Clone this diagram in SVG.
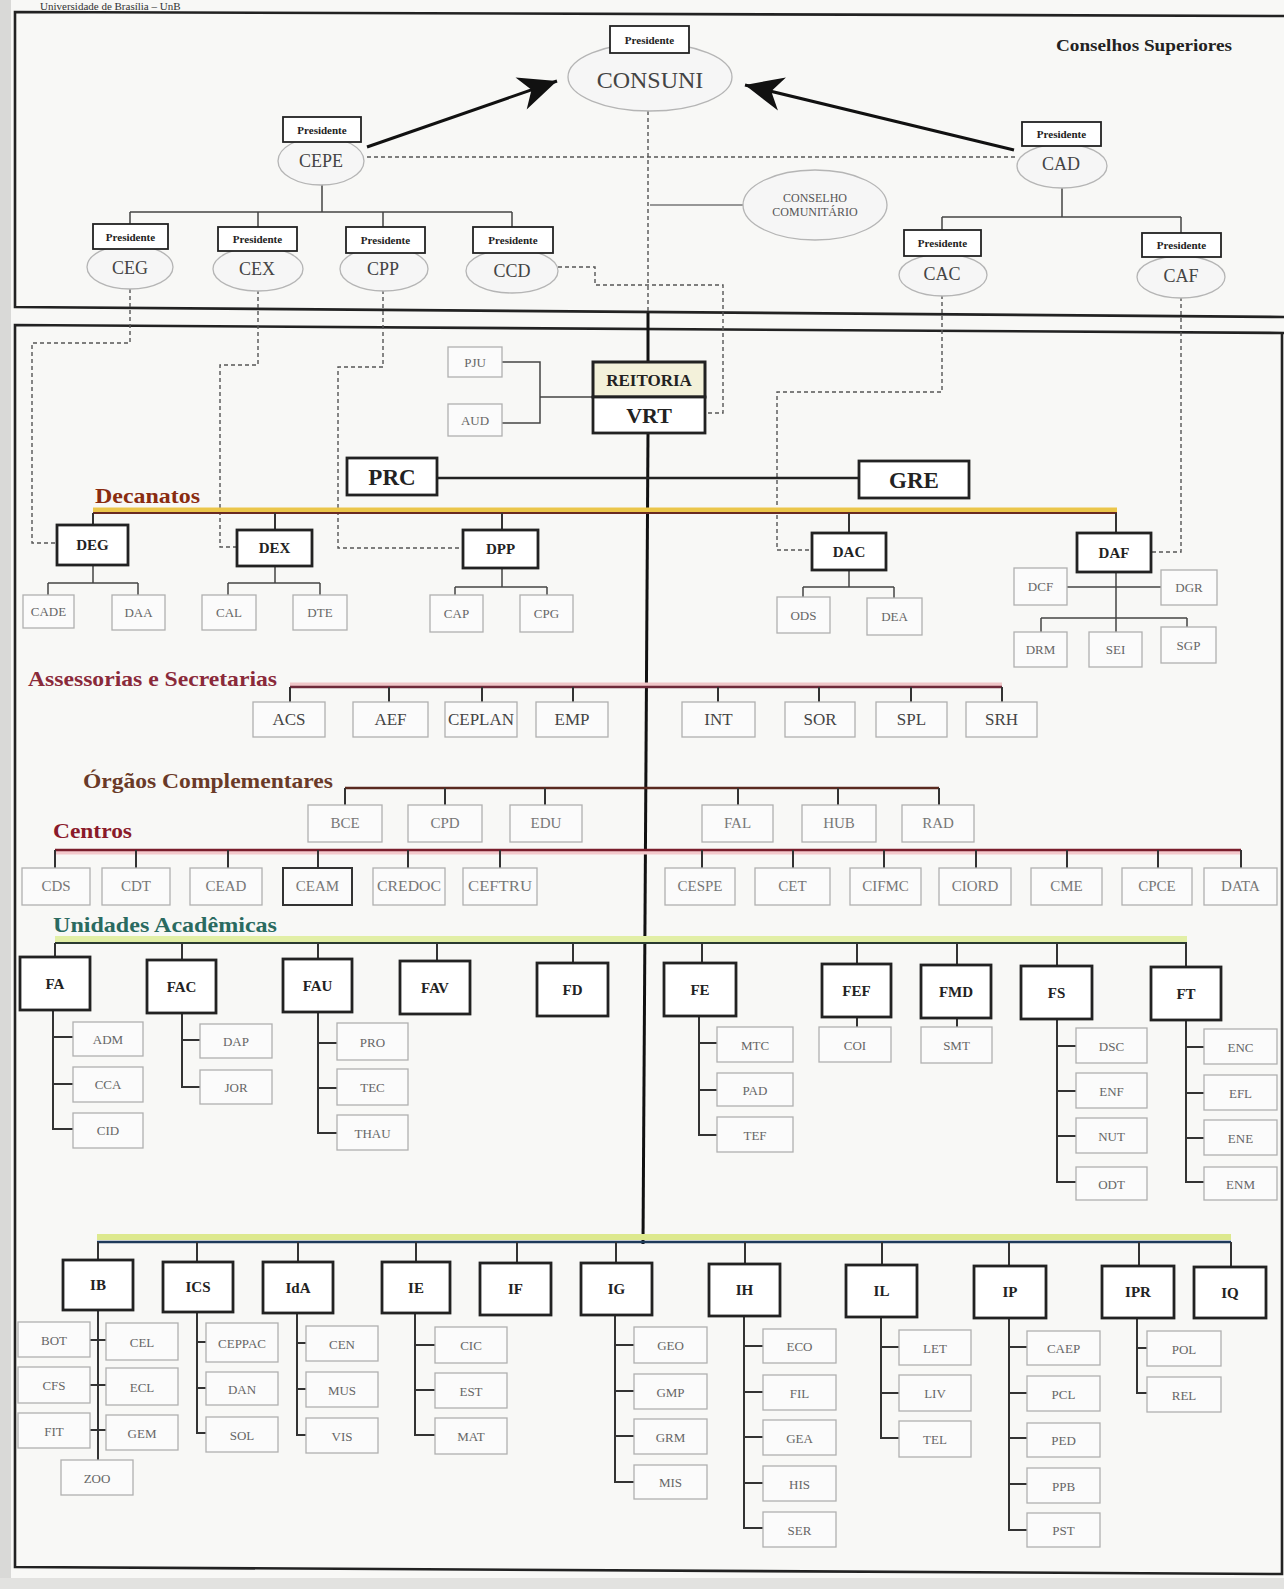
<svg xmlns="http://www.w3.org/2000/svg" width="1284" height="1589" viewBox="0 0 1284 1589">
<style>
text{font-family:"Liberation Serif","Times New Roman",serif;text-anchor:middle}
.frame{fill:none;stroke:#222;stroke-width:2.6}
.cloud{fill:#f6f6f6;stroke:#b5b5b5;stroke-width:1.3}
.pres{fill:#fff;stroke:#222;stroke-width:1.8}
.presT{font-size:11px;font-weight:bold;fill:#222}
.cT{font-size:18px;fill:#444}
.n1{fill:#fff;stroke:#222;stroke-width:2.8}
.n1T{font-size:15px;font-weight:bold;fill:#222}
.big{font-size:23px;font-weight:bold;fill:#222}
.dep{fill:#fbfbfb;stroke:#b0b0b0;stroke-width:1.3}
.dT{font-size:13px;fill:#666}
.aT{font-size:17px;fill:#444}
.oT{font-size:15px;fill:#777}
.ln{fill:none;stroke:#333;stroke-width:2}
.lnt{fill:none;stroke:#444;stroke-width:1.5}
.dash{fill:none;stroke:#555;stroke-width:1.4;stroke-dasharray:4 3}
.hd{font-size:22px;font-weight:bold;text-anchor:start}
</style>
<defs>
<marker id="arr" viewBox="-40 -20 42 40" refX="0" refY="0" markerWidth="42" markerHeight="40" markerUnits="userSpaceOnUse" orient="auto">
<path d="M0,0 L-38,-17 L-27,0 L-38,17 Z" fill="#111"/>
</marker>
</defs>
<rect x="0" y="0" width="1284" height="1589" fill="#f8f8f6"/>
<rect x="0" y="0" width="11" height="1589" fill="#d9d9d7"/>
<rect x="0" y="1578" width="1284" height="11" fill="#e2e2e0"/>
<text x="40" y="10" style="font-size:11px;text-anchor:start;fill:#333">Universidade de Brasília – UnB</text>

<g id="frames">
<path class="frame" d="M1284,16 L15,12 L15,307 L1284,317"/>
<path class="frame" d="M1284,333 L15,325 L15,1567 L1282,1574 L1282,333"/>
</g>
<text x="1144" y="51" style="font-size:17px;font-weight:bold;fill:#222" textLength="176" lengthAdjust="spacingAndGlyphs">Conselhos Superiores</text>

<g id="connectors">
<line x1="367" y1="147" x2="557" y2="81" stroke="#111" stroke-width="3" marker-end="url(#arr)"/>
<line x1="1014" y1="150" x2="745" y2="85" stroke="#111" stroke-width="3" marker-end="url(#arr)"/>
<path class="dash" d="M367,157 H1016"/>
<path class="dash" d="M648,111 V313"/>
<path d="M650,205 H743" stroke="#777" stroke-width="1.5" fill="none"/>
<path class="lnt" d="M322,183 V212 M130,212 H512 M130,212 V224 M258,212 V227 M383,212 V227 M512,212 V227"/>
<path class="lnt" d="M1062,187 V217 M942,217 H1181 M942,217 V230 M1181,217 V233"/>
<path class="dash" d="M130,289 V343 H32 V543 H57"/>
<path class="dash" d="M258,290 V365 H220 V547 H237"/>
<path class="dash" d="M383,290 V367 H338 V548 H463"/>
<path class="dash" d="M558,267 H595 V285 H723 V413 H705"/>
<path class="dash" d="M942,295 V392 H777 V550 H812"/>
<path class="dash" d="M1181,297 V552 H1151"/>
<path d="M648,313 V362" stroke="#111" stroke-width="3" fill="none"/>
<path d="M648,433 L643,1244" stroke="#111" stroke-width="3" fill="none"/>
<path class="lnt" d="M502,362 H540 V423 H502 M540,397 H593"/>
<path d="M437,478 H859" stroke="#222" stroke-width="2.6" fill="none"/>
<path d="M93,510 H1117" stroke="#ebc64a" stroke-width="5" fill="none"/>
<path d="M93,513 H1117" stroke="#6a2a20" stroke-width="1.8" fill="none"/>
<path class="ln" d="M93,513 V525 M275,513 V530 M502,513 V530 M849,513 V533 M1116,513 V533"/>
<path class="lnt" d="M93,565 V583 M48,583 H138 M48,583 V595 M138,583 V595"/>
<path class="lnt" d="M275,566 V583 M228,583 H320 M228,583 V595 M320,583 V595"/>
<path class="lnt" d="M502,568 V587 M455,587 H547 M455,587 V595 M547,587 V595"/>
<path class="lnt" d="M849,570 V587 M803,587 H894 M803,587 V597 M894,587 V598"/>
<path class="lnt" d="M1067,587 H1161 M1116,572 V618 M1041,618 H1187 M1041,618 V632 M1116,618 V632 M1187,618 V627"/>
<path d="M290,685 H1002" stroke="#f0c6c8" stroke-width="5" fill="none"/>
<path d="M290,687 H1002" stroke="#6e2a3a" stroke-width="2.4" fill="none"/>
<path class="ln" d="M290,687 V702 M389,687 V702 M482,687 V702 M573,687 V702 M718,687 V702 M819,687 V702 M911,687 V702 M1002,687 V702" stroke="#5a2a30"/>
<path d="M345,788 H939" stroke="#5a2a20" stroke-width="2.4" fill="none"/>
<path class="ln" d="M345,788 V805 M445,788 V805 M545,788 V805 M738,788 V805 M838,788 V805 M939,788 V805"/>
<path d="M55,852 H1241" stroke="#f3c9cc" stroke-width="5" fill="none"/>
<path d="M55,850 H1241" stroke="#7a1e2c" stroke-width="2.4" fill="none"/>
<path class="ln" d="M55,850 V868 M136,850 V868 M228,850 V868 M318,850 V868 M408,850 V868 M500,850 V868 M702,850 V868 M793,850 V868 M884,850 V868 M976,850 V868 M1067,850 V868 M1158,850 V868 M1241,850 V868" stroke="#5a2a30"/>
<path d="M55,939 H1187" stroke="#e2efa6" stroke-width="6" fill="none"/>
<path d="M55,943 H1187" stroke="#2a3a30" stroke-width="2.2" fill="none"/>
<path class="ln" d="M55,943 V957 M182,943 V960 M318,943 V959 M437,943 V961 M573,943 V963 M702,943 V963 M857,943 V964 M957,943 V965 M1057,943 V966 M1186,943 V967" stroke="#2a4a40"/>
<path class="ln" d="M53,1010 V1129 H73 M53,1037 H73 M53,1084 H73"/>
<path class="ln" d="M182,1013 V1087 H200 M182,1040 H200"/>
<path class="ln" d="M318,1012 V1133 H337 M318,1043 H337 M318,1088 H337"/>
<path class="ln" d="M699,1016 V1135 H717 M699,1043 H717 M699,1090 H717"/>
<path class="ln" d="M857,1017 V1027 M957,1018 V1027"/>
<path class="ln" d="M1057,1019 V1182 H1076 M1057,1046 H1076 M1057,1091 H1076 M1057,1136 H1076"/>
<path class="ln" d="M1186,1020 V1182 H1204 M1186,1047 H1204 M1186,1093 H1204 M1186,1138 H1204"/>
<path d="M97,1237 H1231" stroke="#dde98e" stroke-width="6" fill="none"/>
<path d="M97,1242 H1231" stroke="#1e3a5a" stroke-width="2.4" fill="none"/>
<path class="ln" d="M98,1242 V1260 M197,1242 V1262 M298,1242 V1262 M416,1242 V1262 M517,1242 V1263 M616,1242 V1263 M745,1242 V1264 M882,1242 V1265 M1009,1242 V1266 M1139,1242 V1266 M1231,1242 V1267" stroke="#2a3a4a"/>
<path class="ln" d="M98,1310 V1460 M90,1340 H106 M90,1385 H106 M90,1430 H106"/>
<path class="ln" d="M197,1312 V1433 H206 M197,1342 H206 M197,1388 H206"/>
<path class="ln" d="M297,1313 V1435 H306 M297,1343 H306 M297,1389 H306"/>
<path class="ln" d="M415,1313 V1435 H435 M415,1345 H435 M415,1390 H435"/>
<path class="ln" d="M615,1315 V1482 H634 M615,1345 H634 M615,1391 H634 M615,1436 H634"/>
<path class="ln" d="M744,1316 V1528 H763 M744,1346 H763 M744,1392 H763 M744,1437 H763 M744,1483 H763"/>
<path class="ln" d="M881,1317 V1438 H899 M881,1347 H899 M881,1393 H899"/>
<path class="ln" d="M1009,1318 V1530 H1027 M1009,1347 H1027 M1009,1393 H1027 M1009,1438 H1027 M1009,1484 H1027"/>
<path class="ln" d="M1137,1318 V1393 H1147 M1137,1348 H1147"/>
</g>

<g id="n-CONSUNI"><ellipse class="cloud" cx="650" cy="77" rx="82" ry="34"/><rect class="pres" x="610" y="26" width="79" height="27"/><text class="presT" x="649.5" y="43.5">Presidente</text><text x="650" y="88" style="font-size:24px;fill:#444">CONSUNI</text></g>
<g id="n-CEPE"><ellipse class="cloud" cx="321" cy="161" rx="43" ry="24"/><rect class="pres" x="283" y="117" width="78" height="25"/><text class="presT" x="322" y="133.5">Presidente</text><text class="cT" x="321" y="167">CEPE</text></g>
<g id="n-CAD"><ellipse class="cloud" cx="1062" cy="166" rx="45" ry="22"/><rect class="pres" x="1022" y="122" width="79" height="24"/><text class="presT" x="1061.5" y="138">Presidente</text><text class="cT" x="1061" y="170">CAD</text></g>
<g id="n-CEG"><ellipse class="cloud" cx="130" cy="267" rx="43" ry="22"/><rect class="pres" x="93" y="224" width="75" height="25"/><text class="presT" x="130.5" y="240.5">Presidente</text><text class="cT" x="130" y="274">CEG</text></g>
<g id="n-CEX"><ellipse class="cloud" cx="258" cy="269" rx="45" ry="22"/><rect class="pres" x="218" y="227" width="79" height="24"/><text class="presT" x="257.5" y="243">Presidente</text><text class="cT" x="257" y="275">CEX</text></g>
<g id="n-CPP"><ellipse class="cloud" cx="384" cy="269" rx="44" ry="22"/><rect class="pres" x="346" y="227" width="79" height="26"/><text class="presT" x="385.5" y="244">Presidente</text><text class="cT" x="383" y="275">CPP</text></g>
<g id="n-CCD"><ellipse class="cloud" cx="512" cy="271" rx="46" ry="22"/><rect class="pres" x="473" y="227" width="80" height="26"/><text class="presT" x="513" y="244">Presidente</text><text class="cT" x="512" y="277">CCD</text></g>
<g id="n-CAC"><ellipse class="cloud" cx="943" cy="275" rx="44" ry="21"/><rect class="pres" x="904" y="230" width="77" height="26"/><text class="presT" x="942.5" y="247">Presidente</text><text class="cT" x="942" y="280">CAC</text></g>
<g id="n-CAF"><ellipse class="cloud" cx="1181" cy="277" rx="44" ry="21"/><rect class="pres" x="1142" y="233" width="79" height="24"/><text class="presT" x="1181.5" y="249">Presidente</text><text class="cT" x="1181" y="282">CAF</text></g>
<g id="n-CONSELHO"><ellipse class="cloud" cx="815" cy="205" rx="72" ry="35"/><text x="815" y="202" style="font-size:12px;fill:#555">CONSELHO</text><text x="815" y="216" style="font-size:12px;fill:#555">COMUNITÁRIO</text></g>

<g id="n-PJU"><rect class="dep" x="448" y="347" width="54" height="30"/><text class="dT" x="475" y="367">PJU</text></g>
<g id="n-AUD"><rect class="dep" x="448" y="404" width="54" height="32"/><text class="dT" x="475" y="425">AUD</text></g>
<g id="n-REITORIA"><rect x="593" y="362" width="112" height="35" fill="#f3f1da" stroke="#222" stroke-width="3"/><text x="649" y="386" style="font-size:17px;font-weight:bold;fill:#222">REITORIA</text></g>
<g id="n-VRT"><rect class="n1" x="593" y="397" width="112" height="36" stroke-width="3"/><text x="649" y="423" style="font-size:22px;font-weight:bold;fill:#222">VRT</text></g>
<g id="n-PRC"><rect class="n1" x="347" y="458" width="90" height="37"/><text class="big" x="392" y="485">PRC</text></g>
<g id="n-GRE"><rect class="n1" x="859" y="461" width="110" height="37"/><text class="big" x="914" y="488">GRE</text></g>

<text class="hd" x="95" y="503" fill="#8a2c10" textLength="105" lengthAdjust="spacingAndGlyphs">Decanatos</text>
<text class="hd" x="28" y="686" fill="#8a2a3a" textLength="249" lengthAdjust="spacingAndGlyphs">Assessorias e Secretarias</text>
<text class="hd" x="83" y="788" fill="#6a3a28" textLength="250" lengthAdjust="spacingAndGlyphs">Órgãos Complementares</text>
<text class="hd" x="53" y="838" fill="#8a1a2a" textLength="79" lengthAdjust="spacingAndGlyphs">Centros</text>
<text class="hd" x="53" y="932" fill="#2a6a60" textLength="224" lengthAdjust="spacingAndGlyphs">Unidades Acadêmicas</text>

<g id="n-DEG"><rect class="n1" x="57" y="525" width="71" height="40"/><text class="n1T" x="92.5" y="550">DEG</text></g>
<g id="n-DEX"><rect class="n1" x="237" y="530" width="75" height="36"/><text class="n1T" x="274.5" y="553">DEX</text></g>
<g id="n-DPP"><rect class="n1" x="463" y="530" width="75" height="38"/><text class="n1T" x="500.5" y="554">DPP</text></g>
<g id="n-DAC"><rect class="n1" x="812" y="533" width="74" height="37"/><text class="n1T" x="849" y="557">DAC</text></g>
<g id="n-DAF"><rect class="n1" x="1077" y="533" width="74" height="39"/><text class="n1T" x="1114" y="558">DAF</text></g>
<g id="n-CADE"><rect class="dep" x="23" y="595" width="51" height="33"/><text class="dT" x="48.5" y="616">CADE</text></g>
<g id="n-DAA"><rect class="dep" x="112" y="595" width="53" height="35"/><text class="dT" x="138.5" y="617">DAA</text></g>
<g id="n-CAL"><rect class="dep" x="202" y="595" width="54" height="35"/><text class="dT" x="229" y="617">CAL</text></g>
<g id="n-DTE"><rect class="dep" x="293" y="595" width="54" height="35"/><text class="dT" x="320" y="617">DTE</text></g>
<g id="n-CAP"><rect class="dep" x="430" y="595" width="53" height="37"/><text class="dT" x="456.5" y="618">CAP</text></g>
<g id="n-CPG"><rect class="dep" x="520" y="595" width="53" height="37"/><text class="dT" x="546.5" y="618">CPG</text></g>
<g id="n-ODS"><rect class="dep" x="777" y="597" width="53" height="36"/><text class="dT" x="803.5" y="620">ODS</text></g>
<g id="n-DEA"><rect class="dep" x="867" y="598" width="55" height="37"/><text class="dT" x="894.5" y="621">DEA</text></g>
<g id="n-DCF"><rect class="dep" x="1014" y="568" width="53" height="37"/><text class="dT" x="1040.5" y="591">DCF</text></g>
<g id="n-DGR"><rect class="dep" x="1161" y="570" width="56" height="35"/><text class="dT" x="1189" y="592">DGR</text></g>
<g id="n-DRM"><rect class="dep" x="1014" y="632" width="53" height="35"/><text class="dT" x="1040.5" y="654">DRM</text></g>
<g id="n-SEI"><rect class="dep" x="1089" y="632" width="53" height="35"/><text class="dT" x="1115.5" y="654">SEI</text></g>
<g id="n-SGP"><rect class="dep" x="1161" y="627" width="55" height="36"/><text class="dT" x="1188.5" y="650">SGP</text></g>

<g id="n-ACS"><rect class="dep" x="253" y="702" width="72" height="35"/><text class="aT" x="289" y="725">ACS</text></g>
<g id="n-AEF"><rect class="dep" x="353" y="702" width="75" height="35"/><text class="aT" x="390.5" y="725">AEF</text></g>
<g id="n-CEPLAN"><rect class="dep" x="445" y="702" width="72" height="35"/><text class="aT" x="481" y="725" textLength="66" lengthAdjust="spacingAndGlyphs">CEPLAN</text></g>
<g id="n-EMP"><rect class="dep" x="536" y="702" width="72" height="35"/><text class="aT" x="572" y="725">EMP</text></g>
<g id="n-INT"><rect class="dep" x="682" y="702" width="73" height="35"/><text class="aT" x="718.5" y="725">INT</text></g>
<g id="n-SOR"><rect class="dep" x="785" y="702" width="70" height="35"/><text class="aT" x="820" y="725">SOR</text></g>
<g id="n-SPL"><rect class="dep" x="876" y="702" width="71" height="35"/><text class="aT" x="911.5" y="725">SPL</text></g>
<g id="n-SRH"><rect class="dep" x="966" y="702" width="71" height="35"/><text class="aT" x="1001.5" y="725">SRH</text></g>

<g id="n-BCE"><rect class="dep" x="308" y="805" width="74" height="37"/><text class="oT" x="345" y="828">BCE</text></g>
<g id="n-CPD"><rect class="dep" x="408" y="805" width="74" height="37"/><text class="oT" x="445" y="828">CPD</text></g>
<g id="n-EDU"><rect class="dep" x="510" y="805" width="72" height="37"/><text class="oT" x="546" y="828">EDU</text></g>
<g id="n-FAL"><rect class="dep" x="702" y="805" width="71" height="37"/><text class="oT" x="737.5" y="828">FAL</text></g>
<g id="n-HUB"><rect class="dep" x="802" y="805" width="74" height="37"/><text class="oT" x="839" y="828">HUB</text></g>
<g id="n-RAD"><rect class="dep" x="902" y="805" width="72" height="37"/><text class="oT" x="938" y="828">RAD</text></g>

<g id="n-CDS"><rect class="dep" x="22" y="868" width="68" height="37"/><text class="oT" x="56" y="891">CDS</text></g>
<g id="n-CDT"><rect class="dep" x="102" y="868" width="68" height="37"/><text class="oT" x="136" y="891">CDT</text></g>
<g id="n-CEAD"><rect class="dep" x="190" y="868" width="72" height="37"/><text class="oT" x="226" y="891">CEAD</text></g>
<g id="n-CEAM"><rect x="283" y="868" width="69" height="37" fill="#fbfbfb" stroke="#333" stroke-width="2"/><text class="oT" x="317.5" y="891">CEAM</text></g>
<g id="n-CREDOC"><rect class="dep" x="373" y="868" width="72" height="37"/><text class="oT" x="409" y="891" textLength="64" lengthAdjust="spacingAndGlyphs">CREDOC</text></g>
<g id="n-CEFTRU"><rect class="dep" x="463" y="868" width="74" height="37"/><text class="oT" x="500" y="891" textLength="64" lengthAdjust="spacingAndGlyphs">CEFTRU</text></g>
<g id="n-CESPE"><rect class="dep" x="665" y="868" width="70" height="37"/><text class="oT" x="700" y="891">CESPE</text></g>
<g id="n-CET"><rect class="dep" x="755" y="868" width="75" height="37"/><text class="oT" x="792.5" y="891">CET</text></g>
<g id="n-CIFMC"><rect class="dep" x="850" y="868" width="71" height="37"/><text class="oT" x="885.5" y="891">CIFMC</text></g>
<g id="n-CIORD"><rect class="dep" x="939" y="868" width="72" height="37"/><text class="oT" x="975" y="891">CIORD</text></g>
<g id="n-CME"><rect class="dep" x="1031" y="868" width="71" height="37"/><text class="oT" x="1066.5" y="891">CME</text></g>
<g id="n-CPCE"><rect class="dep" x="1122" y="868" width="70" height="37"/><text class="oT" x="1157" y="891">CPCE</text></g>
<g id="n-DATA"><rect class="dep" x="1204" y="868" width="73" height="37"/><text class="oT" x="1240.5" y="891">DATA</text></g>

<g id="n-FA"><rect class="n1" x="20" y="957" width="70" height="53"/><text class="n1T" x="55" y="988.5">FA</text></g>
<g id="n-FAC"><rect class="n1" x="147" y="960" width="69" height="53"/><text class="n1T" x="181.5" y="991.5">FAC</text></g>
<g id="n-FAU"><rect class="n1" x="283" y="959" width="69" height="53"/><text class="n1T" x="317.5" y="990.5">FAU</text></g>
<g id="n-FAV"><rect class="n1" x="400" y="961" width="70" height="53"/><text class="n1T" x="435" y="992.5">FAV</text></g>
<g id="n-FD"><rect class="n1" x="537" y="963" width="71" height="53"/><text class="n1T" x="572.5" y="994.5">FD</text></g>
<g id="n-FE"><rect class="n1" x="664" y="963" width="72" height="53"/><text class="n1T" x="700" y="994.5">FE</text></g>
<g id="n-FEF"><rect class="n1" x="822" y="964" width="69" height="53"/><text class="n1T" x="856.5" y="995.5">FEF</text></g>
<g id="n-FMD"><rect class="n1" x="921" y="965" width="70" height="53"/><text class="n1T" x="956" y="996.5">FMD</text></g>
<g id="n-FS"><rect class="n1" x="1021" y="966" width="71" height="53"/><text class="n1T" x="1056.5" y="997.5">FS</text></g>
<g id="n-FT"><rect class="n1" x="1151" y="967" width="70" height="53"/><text class="n1T" x="1186" y="998.5">FT</text></g>

<g id="n-ADM"><rect class="dep" x="73" y="1022" width="70" height="34"/><text class="dT" x="108" y="1044">ADM</text></g>
<g id="n-CCA"><rect class="dep" x="73" y="1067" width="70" height="35"/><text class="dT" x="108" y="1089">CCA</text></g>
<g id="n-CID"><rect class="dep" x="73" y="1113" width="70" height="35"/><text class="dT" x="108" y="1135">CID</text></g>
<g id="n-DAP"><rect class="dep" x="200" y="1024" width="72" height="34"/><text class="dT" x="236" y="1046">DAP</text></g>
<g id="n-JOR"><rect class="dep" x="200" y="1070" width="72" height="34"/><text class="dT" x="236" y="1092">JOR</text></g>
<g id="n-PRO"><rect class="dep" x="337" y="1023" width="71" height="37"/><text class="dT" x="372.5" y="1046.5">PRO</text></g>
<g id="n-TEC"><rect class="dep" x="337" y="1069" width="71" height="36"/><text class="dT" x="372.5" y="1092">TEC</text></g>
<g id="n-THAU"><rect class="dep" x="337" y="1115" width="71" height="35"/><text class="dT" x="372.5" y="1137.5">THAU</text></g>
<g id="n-MTC"><rect class="dep" x="717" y="1027" width="76" height="35"/><text class="dT" x="755" y="1049.5">MTC</text></g>
<g id="n-PAD"><rect class="dep" x="717" y="1073" width="76" height="33"/><text class="dT" x="755" y="1094.5">PAD</text></g>
<g id="n-TEF"><rect class="dep" x="717" y="1117" width="76" height="35"/><text class="dT" x="755" y="1139.5">TEF</text></g>
<g id="n-COI"><rect class="dep" x="819" y="1027" width="72" height="35"/><text class="dT" x="855" y="1049.5">COI</text></g>
<g id="n-SMT"><rect class="dep" x="921" y="1027" width="71" height="36"/><text class="dT" x="956.5" y="1050">SMT</text></g>
<g id="n-DSC"><rect class="dep" x="1076" y="1028" width="71" height="35"/><text class="dT" x="1111.5" y="1050.5">DSC</text></g>
<g id="n-ENF"><rect class="dep" x="1076" y="1073" width="71" height="35"/><text class="dT" x="1111.5" y="1095.5">ENF</text></g>
<g id="n-NUT"><rect class="dep" x="1076" y="1118" width="71" height="35"/><text class="dT" x="1111.5" y="1140.5">NUT</text></g>
<g id="n-ODT"><rect class="dep" x="1076" y="1167" width="71" height="33"/><text class="dT" x="1111.5" y="1188.5">ODT</text></g>
<g id="n-ENC"><rect class="dep" x="1204" y="1029" width="73" height="35"/><text class="dT" x="1240.5" y="1051.5">ENC</text></g>
<g id="n-EFL"><rect class="dep" x="1204" y="1075" width="73" height="35"/><text class="dT" x="1240.5" y="1097.5">EFL</text></g>
<g id="n-ENE"><rect class="dep" x="1204" y="1120" width="73" height="35"/><text class="dT" x="1240.5" y="1142.5">ENE</text></g>
<g id="n-ENM"><rect class="dep" x="1204" y="1167" width="73" height="33"/><text class="dT" x="1240.5" y="1188.5">ENM</text></g>

<g id="n-IB"><rect class="n1" x="63" y="1260" width="70" height="50"/><text class="n1T" x="98" y="1290">IB</text></g>
<g id="n-ICS"><rect class="n1" x="163" y="1262" width="70" height="50"/><text class="n1T" x="198" y="1292">ICS</text></g>
<g id="n-IdA"><rect class="n1" x="263" y="1262" width="70" height="51"/><text class="n1T" x="298" y="1292.5">IdA</text></g>
<g id="n-IE"><rect class="n1" x="382" y="1262" width="68" height="51"/><text class="n1T" x="416" y="1292.5">IE</text></g>
<g id="n-IF"><rect class="n1" x="480" y="1263" width="71" height="52"/><text class="n1T" x="515.5" y="1294">IF</text></g>
<g id="n-IG"><rect class="n1" x="581" y="1263" width="71" height="52"/><text class="n1T" x="616.5" y="1294">IG</text></g>
<g id="n-IH"><rect class="n1" x="709" y="1264" width="71" height="52"/><text class="n1T" x="744.5" y="1295">IH</text></g>
<g id="n-IL"><rect class="n1" x="846" y="1265" width="71" height="52"/><text class="n1T" x="881.5" y="1296">IL</text></g>
<g id="n-IP"><rect class="n1" x="974" y="1266" width="72" height="52"/><text class="n1T" x="1010" y="1297">IP</text></g>
<g id="n-IPR"><rect class="n1" x="1102" y="1266" width="72" height="52"/><text class="n1T" x="1138" y="1297">IPR</text></g>
<g id="n-IQ"><rect class="n1" x="1194" y="1267" width="72" height="51"/><text class="n1T" x="1230" y="1297.5">IQ</text></g>

<g id="n-BOT"><rect class="dep" x="18" y="1322" width="72" height="35"/><text class="dT" x="54" y="1344.5">BOT</text></g>
<g id="n-CFS"><rect class="dep" x="18" y="1367" width="72" height="36"/><text class="dT" x="54" y="1390">CFS</text></g>
<g id="n-FIT"><rect class="dep" x="18" y="1413" width="72" height="35"/><text class="dT" x="54" y="1435.5">FIT</text></g>
<g id="n-CEL"><rect class="dep" x="106" y="1323" width="72" height="37"/><text class="dT" x="142" y="1346.5">CEL</text></g>
<g id="n-ECL"><rect class="dep" x="106" y="1368" width="72" height="37"/><text class="dT" x="142" y="1391.5">ECL</text></g>
<g id="n-GEM"><rect class="dep" x="106" y="1415" width="72" height="35"/><text class="dT" x="142" y="1437.5">GEM</text></g>
<g id="n-ZOO"><rect class="dep" x="61" y="1460" width="72" height="35"/><text class="dT" x="97" y="1482.5">ZOO</text></g>
<g id="n-CEPPAC"><rect class="dep" x="206" y="1323" width="72" height="39"/><text class="dT" x="242" y="1347.5">CEPPAC</text></g>
<g id="n-DAN"><rect class="dep" x="206" y="1372" width="72" height="33"/><text class="dT" x="242" y="1393.5">DAN</text></g>
<g id="n-SOL"><rect class="dep" x="206" y="1417" width="72" height="35"/><text class="dT" x="242" y="1439.5">SOL</text></g>
<g id="n-CEN"><rect class="dep" x="306" y="1326" width="72" height="35"/><text class="dT" x="342" y="1348.5">CEN</text></g>
<g id="n-MUS"><rect class="dep" x="306" y="1372" width="72" height="35"/><text class="dT" x="342" y="1394.5">MUS</text></g>
<g id="n-VIS"><rect class="dep" x="306" y="1418" width="72" height="35"/><text class="dT" x="342" y="1440.5">VIS</text></g>
<g id="n-CIC"><rect class="dep" x="435" y="1327" width="72" height="36"/><text class="dT" x="471" y="1350">CIC</text></g>
<g id="n-EST"><rect class="dep" x="435" y="1373" width="72" height="35"/><text class="dT" x="471" y="1395.5">EST</text></g>
<g id="n-MAT"><rect class="dep" x="435" y="1418" width="72" height="36"/><text class="dT" x="471" y="1441">MAT</text></g>
<g id="n-GEO"><rect class="dep" x="634" y="1327" width="73" height="36"/><text class="dT" x="670.5" y="1350">GEO</text></g>
<g id="n-GMP"><rect class="dep" x="634" y="1374" width="73" height="35"/><text class="dT" x="670.5" y="1396.5">GMP</text></g>
<g id="n-GRM"><rect class="dep" x="634" y="1419" width="73" height="35"/><text class="dT" x="670.5" y="1441.5">GRM</text></g>
<g id="n-MIS"><rect class="dep" x="634" y="1465" width="73" height="34"/><text class="dT" x="670.5" y="1487">MIS</text></g>
<g id="n-ECO"><rect class="dep" x="763" y="1329" width="73" height="34"/><text class="dT" x="799.5" y="1351">ECO</text></g>
<g id="n-FIL"><rect class="dep" x="763" y="1375" width="73" height="35"/><text class="dT" x="799.5" y="1397.5">FIL</text></g>
<g id="n-GEA"><rect class="dep" x="763" y="1420" width="73" height="35"/><text class="dT" x="799.5" y="1442.5">GEA</text></g>
<g id="n-HIS"><rect class="dep" x="763" y="1466" width="73" height="35"/><text class="dT" x="799.5" y="1488.5">HIS</text></g>
<g id="n-SER"><rect class="dep" x="763" y="1512" width="73" height="35"/><text class="dT" x="799.5" y="1534.5">SER</text></g>
<g id="n-LET"><rect class="dep" x="899" y="1330" width="72" height="35"/><text class="dT" x="935" y="1352.5">LET</text></g>
<g id="n-LIV"><rect class="dep" x="899" y="1375" width="72" height="36"/><text class="dT" x="935" y="1398">LIV</text></g>
<g id="n-TEL"><rect class="dep" x="899" y="1421" width="72" height="36"/><text class="dT" x="935" y="1444">TEL</text></g>
<g id="n-CAEP"><rect class="dep" x="1027" y="1331" width="73" height="34"/><text class="dT" x="1063.5" y="1353">CAEP</text></g>
<g id="n-PCL"><rect class="dep" x="1027" y="1376" width="73" height="35"/><text class="dT" x="1063.5" y="1398.5">PCL</text></g>
<g id="n-PED"><rect class="dep" x="1027" y="1423" width="73" height="34"/><text class="dT" x="1063.5" y="1445">PED</text></g>
<g id="n-PPB"><rect class="dep" x="1027" y="1468" width="73" height="35"/><text class="dT" x="1063.5" y="1490.5">PPB</text></g>
<g id="n-PST"><rect class="dep" x="1027" y="1513" width="73" height="34"/><text class="dT" x="1063.5" y="1535">PST</text></g>
<g id="n-POL"><rect class="dep" x="1147" y="1331" width="74" height="35"/><text class="dT" x="1184" y="1353.5">POL</text></g>
<g id="n-REL"><rect class="dep" x="1147" y="1377" width="74" height="35"/><text class="dT" x="1184" y="1399.5">REL</text></g>
</svg>
